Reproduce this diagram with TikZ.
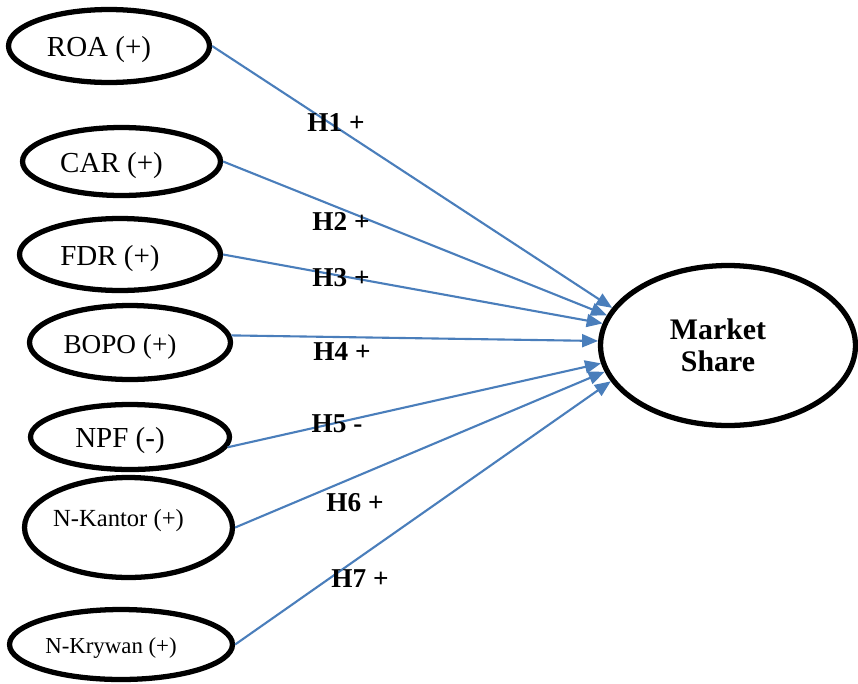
\documentclass[tikz,border=0pt]{standalone}
\usepackage{fontspec}
\setmainfont{Liberation Serif}
\usepackage{tikz}
\usetikzlibrary{arrows.meta,shapes.geometric}
\usepackage{xcolor}
\definecolor{hblue}{HTML}{4A7EBB}

\begin{document}
\begin{tikzpicture}[x=0.02cm,y=-0.02cm,>={Triangle[length=3.2mm,width=2.6mm]},
  latent/.style={ellipse,draw,line width=3pt,inner sep=0pt},
  tlab/.style={xshift=-0.2cm,yshift=-0.08cm,font=\fontsize{16.5}{19}\selectfont},
  hyp/.style={font=\fontsize{15.5}{18}\selectfont\bfseries},
  path/.style={->,hblue,line width=1.2pt}]
\useasboundingbox (0,0) rectangle (858,683);
% exogenous variables
\node[latent,minimum width=4.02cm,minimum height=1.46cm,label={[tlab]center:ROA (+)}] (roa) at (109,46) {};
\node[latent,minimum width=3.96cm,minimum height=1.36cm,label={[tlab]center:CAR (+)}] (car) at (121.5,161.5) {};
\node[latent,minimum width=4.02cm,minimum height=1.44cm,label={[tlab]center:FDR (+)}] (fdr) at (120,254.5) {};
\node[latent,minimum width=4.02cm,minimum height=1.48cm,label={[tlab,font=\fontsize{15.5}{18}\selectfont]center:BOPO (+)}] (bopo) at (130,342.5) {};
\node[latent,minimum width=3.98cm,minimum height=1.30cm,label={[tlab]center:NPF (-)}] (npf) at (130,437) {};
\node[latent,minimum width=4.16cm,minimum height=2.0cm,label={[tlab,yshift=0.22cm,font=\fontsize{14}{16}\selectfont]center:N-Kantor (+)}] (kantor) at (128.5,527.5) {};
\node[latent,minimum width=4.46cm,minimum height=1.40cm,label={[tlab,font=\fontsize{13}{15}\selectfont]center:N-Krywan (+)}] (krywan) at (121,644.5) {};
% endogenous variable
\node[latent,minimum width=5.1cm,minimum height=3.2cm,align=center,font=\fontsize{17}{18.5}\selectfont\bfseries] (ms) at (728,345.5) {\hspace*{-0.4cm}Market\\\hspace*{-0.4cm}Share};
% paths
\draw[path] (roa.east) -- (ms.162.6);
\draw[path] (car.east) -- (ms.166.5);
\draw[path] (fdr.east) -- (ms.170.1);
\draw[path] (bopo.4) -- (ms.178);
\draw[path] (npf.-6) -- (ms.188.2);
\draw[path] (kantor.east) -- (ms.192.8);
\draw[path] (krywan.east) -- (ms.197.8);
% hypotheses
\node[hyp] (h1) at (336,123) {H1 +};
\node[hyp] (h2) at (341,221) {H2 +};
\node[hyp] (h3) at (341,278) {H3 +};
\node[hyp] (h4) at (342,352) {H4 +};
\node[hyp] (h5) at (337,424) {H5 -};
\node[hyp] (h6) at (355,503) {H6 +};
\node[hyp] (h7) at (360,579) {H7 +};
\end{tikzpicture}
\end{document}
